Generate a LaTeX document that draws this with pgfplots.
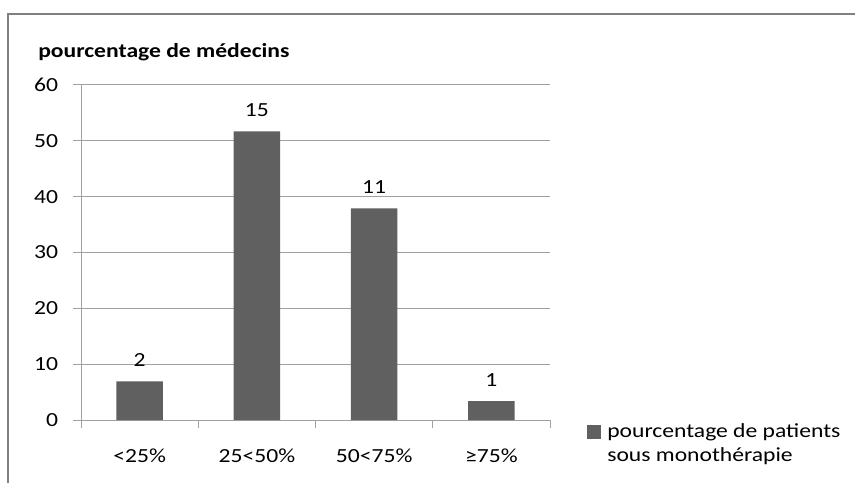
\documentclass[border=0pt]{standalone}
\usepackage{fontspec}
\setmainfont{Carlito}[FakeStretch=1.18]
\usepackage{pgfplots}
\pgfplotsset{compat=1.18}
\definecolor{barc}{RGB}{96,96,96}
\definecolor{gridc}{RGB}{160,160,160}
\definecolor{framec}{RGB}{128,128,128}
\begin{document}
\fontsize{15pt}{18pt}\selectfont
\begin{tikzpicture}
\useasboundingbox (0,0) rectangle (641.25pt,361.5pt);
\draw[framec, line width=1.5pt] (6pt,-5pt) -- (6pt,351pt) -- (650pt,351pt);
\node[anchor=west, inner sep=0pt, font=\bfseries] at (28.5pt,322.5pt) {pourcentage de médecins};
\begin{axis}[
  at={(60.75pt,46.5pt)}, anchor=south west,
  scale only axis, width=351.75pt, height=251.25pt,
  xmin=-0.5, xmax=3.5, ymin=0, ymax=60,
  ytick={0,10,...,60},
  xtick={-0.5,0.5,1.5,2.5,3.5}, xticklabels={,,,,},
  extra x ticks={0,1,2,3},
  extra x tick labels={<25\%,25<50\%,50<75\%,≥75\%},
  extra x tick style={major tick length=0pt},
  axis x line*=bottom, axis y line*=left,
  axis line style={gridc, line width=0.75pt, -},
  ymajorgrids, major grid style={gridc, line width=0.75pt},
  tick align=outside, major tick length=6pt,
  tick style={gridc, line width=0.75pt},
  /pgf/number format/assume math mode=true,
  tick label style={font=\fontsize{15pt}{18pt}\selectfont, inner sep=0pt},
  yticklabel style={anchor=east, xshift=-11pt},
  xticklabel style={anchor=base, yshift=-32pt},
  legend style={draw=none, fill=none, at={(1.079,-0.01)}, anchor=north west,
    inner sep=0pt, font=\fontsize{15pt}{18pt}\selectfont,
    nodes={inner sep=0pt, align=left},
    /tikz/every odd column/.append style={column sep=4.5pt}},
  legend cell align=left,
  legend image code/.code={\fill[barc] (0pt,4pt) rectangle (10.5pt,14.5pt);},
]
\addplot[ybar, bar width=35pt, fill=barc, draw=none,
  point meta=explicit symbolic, nodes near coords,
  nodes near coords style={anchor=south, inner sep=0pt, yshift=11pt, text=black,
    font=\fontsize{15pt}{18pt}\selectfont}]
  coordinates {(0,6.9) [2] (1,51.7) [15] (2,37.9) [11] (3,3.4) [1]};
\addlegendentry{pourcentage de patients\\sous monothérapie}
\end{axis}
\end{tikzpicture}
\end{document}
